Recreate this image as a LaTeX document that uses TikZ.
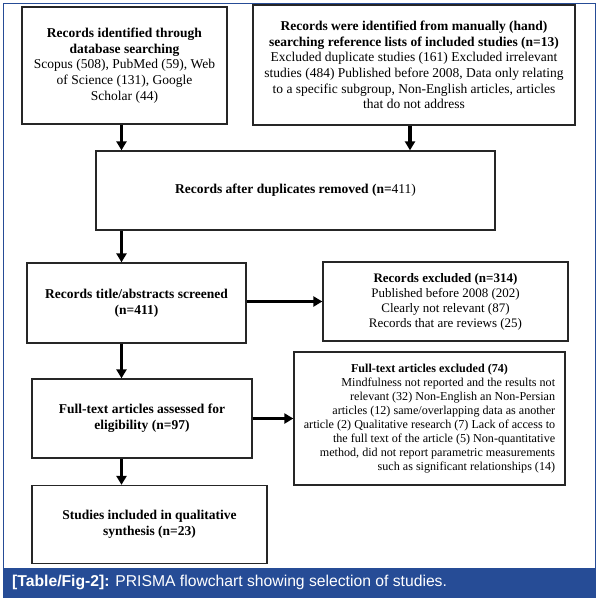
\documentclass[tikz,border=0pt]{standalone}
\usepackage{fontspec}
\setmainfont{Liberation Serif}
\newfontfamily\capfont{Liberation Sans}
\usetikzlibrary{arrows.meta,calc}
\definecolor{frameblue}{RGB}{38,76,150}
\begin{document}
\begin{tikzpicture}[x=1pt,y=-1pt,
  box/.style={draw=black!85, line width=1.3pt, inner sep=0pt, align=center,
    font=\fontsize{13.5}{15.7}\selectfont},
  arr/.style={line width=3.2pt, -{Triangle[length=9pt,width=10pt]}},
]
\useasboundingbox (0,0) rectangle (599,600);
\fill[frameblue] (3,568) rectangle (595,597);
\draw[frameblue, line width=1pt] (3,3) rectangle (595,597);
\coordinate (colx) at (121.5,0);

\node[box, minimum width=205pt, minimum height=117pt] (b1) at (124.5,65.5)
  {\textbf{Records identified through}\\\textbf{database searching}\\
   Scopus (508), PubMed (59), Web\\of Science (131), Google\\Scholar (44)};

\node[box, minimum width=322pt, minimum height=120pt] (b2) at (414,65)
  {\textbf{Records were identified from manually (hand)}\\
   \textbf{searching reference lists of included studies (n=13)}\\
   Excluded duplicate studies (161) Excluded irrelevant\\
   studies (484) Published before 2008, Data only relating\\
   to a specific subgroup, Non-English articles, articles\\
   that do not address};

\node[box, minimum width=399pt, minimum height=79pt] (b3) at (295.5,190.5)
  {\textbf{Records after duplicates removed (n=}411)};

\node[box, minimum width=219pt, minimum height=80pt] (b4) at (136.5,303)
  {\textbf{Records title/abstracts screened}\\\textbf{(n=411)}};

\node[box, minimum width=245pt, minimum height=79pt, font=\fontsize{13}{15}\selectfont] (b5) at (445.5,301.5)
  {\textbf{Records excluded (n=314)}\\Published before 2008 (202)\\
   Clearly not relevant (87)\\Records that are reviews (25)};

\node[box, minimum width=220pt, minimum height=79pt] (b6) at (142,418.5)
  {\textbf{Full-text articles assessed for}\\\textbf{eligibility (n=97)}};

\node[box, minimum width=271pt, minimum height=133pt, font=\fontsize{12.1}{14}\selectfont] (b7) at (429.5,418.5)
  {\begin{tabular}{@{}r@{}}
   \multicolumn{1}{@{}c@{}}{\textbf{Full-text articles excluded (74)}}\\
   Mindfulness not reported and the results not\\
   relevant (32) Non-English an Non-Persian\\
   articles (12) same/overlapping data as another\\
   article (2) Qualitative research (7) Lack of access to\\
   the full text of the article (5) Non-quantitative\\
   method, did not report parametric measurements\\
   such as significant relationships (14)
   \end{tabular}};

\node[box, minimum width=235pt, minimum height=78pt] (b8) at (149.5,524.5)
  {\textbf{Studies included in qualitative}\\\textbf{synthesis (n=23)}};

\node[anchor=west, text=white, inner sep=0pt, font=\capfont\fontsize{15.7}{18}\selectfont] (cap) at (12,582.5)
  {\textbf{[Table/Fig-2]:} PRISMA flowchart showing selection of studies.};

\draw[arr] (b1.south -| colx) -- (b3.north -| colx);
\draw[arr] ([xshift=-4pt]b2.south) -- ([xshift=-4pt]b2.south |- b3.north);
\draw[arr] (b3.south -| colx) -- (b4.north -| colx);
\draw[arr] (b4.east |- b5.west) -- (b5.west);
\draw[arr] (b4.south -| colx) -- (b6.north -| colx);
\draw[arr] (b6.east) -- (b6.east -| b7.west);
\draw[arr] (b6.south -| colx) -- (b8.north -| colx);
\end{tikzpicture}
\end{document}
